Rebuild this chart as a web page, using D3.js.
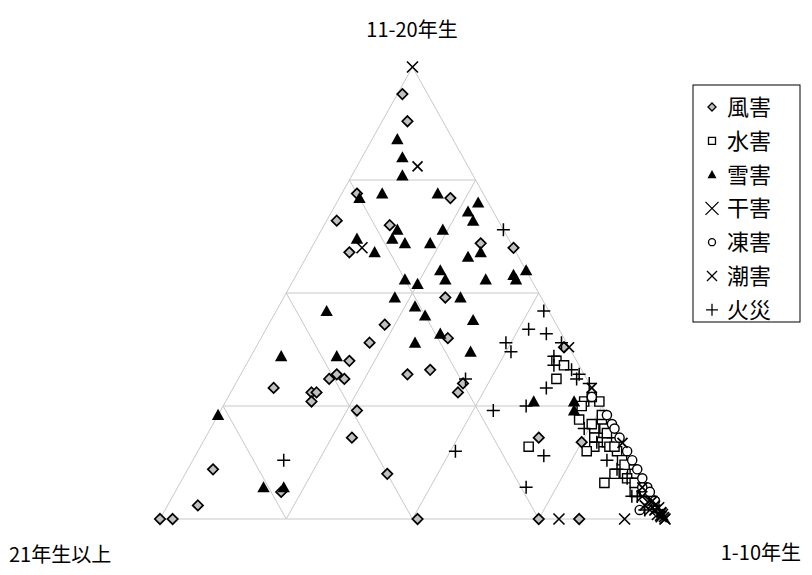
<!DOCTYPE html>
<html>
<head>
<meta charset="utf-8">
<script src="https://cdn.jsdelivr.net/npm/d3@7"></script>
<style>
  body { margin: 0; background: #fff; }
  svg { display: block; font-family: "Noto Sans CJK JP", "Noto Sans", sans-serif; }
</style>
</head>
<body>
<svg width="812" height="575"></svg>
<script>
// each point: [1-10年生 %, 11-20年生 %, 21年生以上 %]
var fuugai = [
  [1, 94, 5], [5, 88, 7], [3, 72, 25], [22, 71, 7], [2, 66, 32], [13, 65, 22],
  [8, 59, 33], [33, 61, 6], [40, 60, 0], [32, 49, 19], [23, 43, 34], [37, 40, 23],
  [22, 39, 39], [20, 35, 45], [19, 32, 49], [18, 31, 51], [21, 31, 48], [8, 29, 63],
  [16, 28, 56], [17, 28, 55], [17, 26, 57], [33, 32, 35], [37, 33, 30], [45, 30, 25],
  [45, 28, 27], [27, 24, 49], [29, 18, 53], [5, 11, 84], [21, 6, 73], [6, 3, 91],
  [0, 0, 100], [2.5, 0, 97.5], [40, 10, 50], [51, 0, 49], [75, 0, 25], [83, 0, 17],
  [66, 18, 16], [75, 17, 8], [61, 38, 1]
];
var suigai = [
  [61, 35, 4], [63, 34, 3], [63, 31, 6], [71, 26, 3], [74, 26, 0], [71, 25, 4],
  [72, 22, 6], [76, 23, 1], [77, 21, 2], [78, 20, 2], [76, 20, 4], [77, 18, 5],
  [79, 17, 4], [80, 17, 3], [81, 16, 3], [78, 16, 6], [77, 15, 8], [83, 15, 2],
  [85, 13, 2], [85, 10, 5], [87, 10, 3], [88, 11, 1], [89, 10, 1], [88, 9, 3],
  [84, 8, 8], [65, 16, 19], [91, 6, 3], [93, 6, 1], [72, 27, 1], [80, 19, 1],
  [82, 16, 2], [86, 12, 2], [75, 21, 4], [79, 19, 2], [90, 8, 2]
];
var setsugai = [
  [5, 84, 11], [8, 80, 12], [10, 76, 14], [4, 71, 25], [8, 72, 20], [19, 72, 9],
  [28, 70, 2], [27, 68, 5], [29, 66, 5], [15, 64, 21], [15, 62, 23], [18, 61, 21],
  [24, 64, 12], [23, 61, 16], [8, 62, 30], [13, 59, 28], [34, 59, 7], [32, 58, 10],
  [45, 55, 0], [43, 54, 3], [44, 53, 3], [38, 53, 9], [28, 55, 17], [30, 53, 17],
  [22, 53, 25], [25, 52, 23], [22, 49, 29], [35, 49, 16], [27, 47, 26], [30, 45, 25],
  [40, 44, 16], [35, 41, 24], [31, 39, 30], [43, 37, 20], [17, 36, 47], [10, 46, 44],
  [6, 36, 58], [0, 23, 77], [17, 7, 76], [21, 7, 72], [61, 26, 13], [69, 26, 5],
  [70, 24, 6]
];
var kangai = [
  [0, 100, 0], [10, 60, 30], [79, 0, 21], [92, 0, 8], [95, 4, 1], [97, 2, 1],
  [99, 1, 0], [100, 0, 0], [96, 2, 2], [97.5, 2.5, 0], [98, 1, 1], [99, 0.5, 0.5],
  [96, 3.5, 0.5], [93, 5, 2]
];
var tougai = [
  [72, 27, 1], [79, 21, 0], [80, 20, 0], [82, 18, 0], [85, 15, 0], [91, 9, 0],
  [93, 7, 0], [94, 6, 0], [94, 2, 4], [96, 4, 0], [87, 13, 0], [89, 11, 0],
  [92, 7, 1], [77, 23, 0]
];
var chougai = [
  [12, 78, 10], [62, 38, 0], [71, 29, 0], [84, 17, 0], [96.5, 3, 0.5], [98.6, 1.4, 0],
  [98.7, 0.7, 0.6], [94.5, 3, 2.5], [99.6, 0.4, 0], [97, 2, 1], [98.5, 1.5, 0],
  [95.5, 4, 0.5], [100, 0, 0], [92, 7, 1]
];
var kasai = [
  [36, 64, 0], [53, 46, 1], [52, 42, 6], [56, 41, 3], [49, 39, 12], [51, 37, 12],
  [60, 39, 1], [60, 36, 4], [61, 34, 5], [65, 33, 2], [67, 32, 1], [67, 31, 2],
  [62, 29, 9], [45, 31, 24], [54, 24, 22], [60, 25, 15], [51, 15, 34], [69, 7, 24],
  [18, 13, 69], [74, 20, 6], [82, 13, 5], [90, 5, 4], [92, 5, 3], [95, 2, 3],
  [69, 14, 17], [70, 30, 0], [88, 9, 3], [85, 11, 4], [78, 17, 5]
];
var seriesNames = ["風害", "水害", "雪害", "干害", "凍害", "潮害", "火災"];
var gridSteps = [0.25, 0.5, 0.75];

var svg = d3.select("svg");

// base position runs from 21年生以上 (left) to 1-10年生 (right); height is 11-20年生 share
var x = d3.scaleLinear().domain([0, 1]).range([160, 665]);
var y = d3.scaleLinear().domain([0, 1]).range([519, 67]);

function proj(p) {
  var s = p[0] + p[1] + p[2];
  var b = p[0] / s, a = p[1] / s;
  return [x(b + a / 2), y(a)];
}

// grid
var grid = svg.append("g").attr("stroke", "#c8c8c8").attr("stroke-width", 1).attr("fill", "none");
var gridLines = [];
gridSteps.forEach(function (t) {
  gridLines.push([[1 - t, t, 0], [0, t, 1 - t]]); // horizontal
  gridLines.push([[t, 0, 1 - t], [t, 1 - t, 0]]); // parallel to left edge
  gridLines.push([[0, 1 - t, t], [1 - t, 0, t]]); // parallel to right edge
});
grid.selectAll("line")
  .data(gridLines)
  .enter()
  .append("line")
  .attr("x1", function (d) { return proj(d[0])[0]; })
  .attr("y1", function (d) { return proj(d[0])[1]; })
  .attr("x2", function (d) { return proj(d[1])[0]; })
  .attr("y2", function (d) { return proj(d[1])[1]; });
grid.append("path")
  .attr("d", "M" + [[0, 0, 1], [1, 0, 0], [0, 1, 0]].map(proj).join("L") + "Z");

// marker shapes
function shape(kind, r) {
  var p = d3.path();
  if (kind === "diamond") {
    p.moveTo(0, -r); p.lineTo(r, 0); p.lineTo(0, r); p.lineTo(-r, 0); p.closePath();
  } else if (kind === "square") {
    p.rect(-r, -r, 2 * r, 2 * r);
  } else if (kind === "triangle") {
    p.moveTo(0, -r); p.lineTo(r, r * 0.8); p.lineTo(-r, r * 0.8); p.closePath();
  } else if (kind === "circle") {
    p.arc(0, 0, r, 0, 2 * Math.PI);
  } else if (kind === "x") {
    p.moveTo(-r, -r); p.lineTo(r, r); p.moveTo(r, -r); p.lineTo(-r, r);
  } else if (kind === "plus") {
    p.moveTo(-r, 0); p.lineTo(r, 0); p.moveTo(0, -r); p.lineTo(0, r);
  }
  return p.toString();
}

var series = [
  { name: seriesNames[0], data: fuugai, kind: "diamond", r: 5.2, lr: 4, fill: "#c0c0c0", sw: 1.7 },
  { name: seriesNames[1], data: suigai, kind: "square", r: 4.6, lr: 3.5, fill: "#fff", sw: 1.4 },
  { name: seriesNames[2], data: setsugai, kind: "triangle", r: 6.2, lr: 4.5, fill: "#000", sw: 0 },
  { name: seriesNames[3], data: kangai, kind: "x", r: 5.5, lr: 6.5, fill: "none", sw: 1.6 },
  { name: seriesNames[4], data: tougai, kind: "circle", r: 4.6, lr: 3.5, fill: "#fff", sw: 1.4 },
  { name: seriesNames[5], data: chougai, kind: "x", r: 5, lr: 5, fill: "none", sw: 1.7 },
  { name: seriesNames[6], data: kasai, kind: "plus", r: 6.5, lr: 6, fill: "none", sw: 1.5 }
];

series.forEach(function (s) {
  svg.append("g")
    .selectAll("path")
    .data(s.data)
    .enter()
    .append("path")
    .attr("d", shape(s.kind, s.r))
    .attr("transform", function (d) { return "translate(" + proj(d) + ")"; })
    .attr("fill", s.fill)
    .attr("stroke", "#000")
    .attr("stroke-width", s.sw);
});

// axis labels
svg.append("text").attr("x", 412).attr("y", 37).attr("text-anchor", "middle")
  .attr("font-size", 20).text("11-20年生");
svg.append("text").attr("x", 9).attr("y", 562)
  .attr("font-size", 20).text("21年生以上");
svg.append("text").attr("x", 801).attr("y", 560).attr("text-anchor", "end")
  .attr("font-size", 20).text("1-10年生");

// legend
var legend = svg.append("g").attr("transform", "translate(693,85)");
legend.append("rect").attr("width", 107).attr("height", 237)
  .attr("fill", "#fff").attr("stroke", "#000").attr("stroke-width", 1);
var item = legend.selectAll("g.item")
  .data(series)
  .enter()
  .append("g")
  .attr("class", "item")
  .attr("transform", function (d, i) { return "translate(0," + (22 + i * 33.8) + ")"; });
item.append("path")
  .attr("transform", "translate(19,0)")
  .attr("d", function (d) { return shape(d.kind, d.lr); })
  .attr("fill", function (d) { return d.fill; })
  .attr("stroke", "#000")
  .attr("stroke-width", function (d) { return d.sw ? Math.min(d.sw, 1.3) : 0; });
item.append("text")
  .attr("x", 34)
  .attr("y", 8)
  .attr("font-size", 22)
  .text(function (d) { return d.name; });
</script>
</body>
</html>
